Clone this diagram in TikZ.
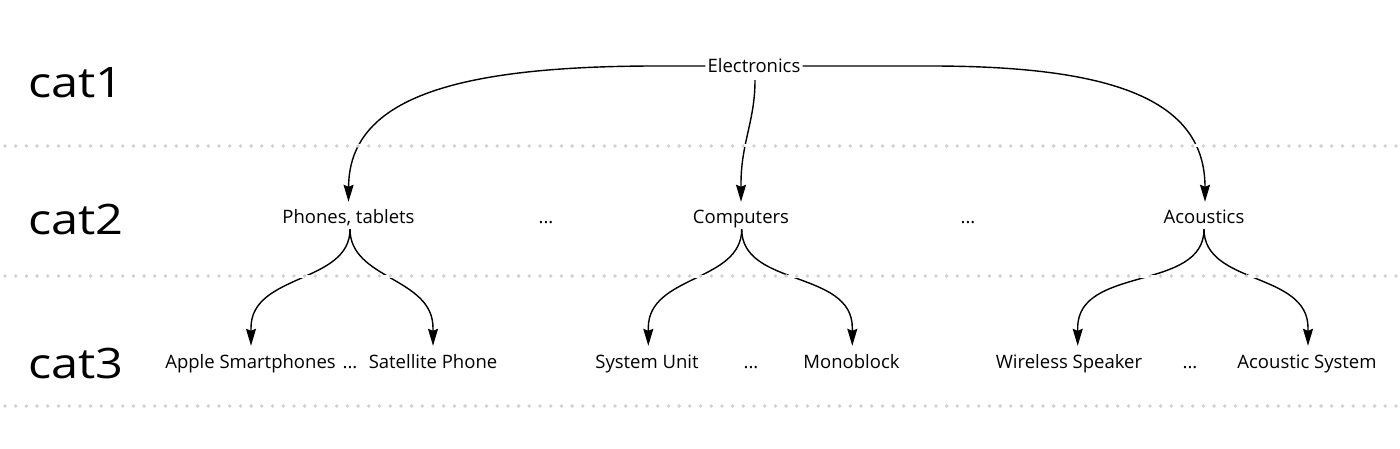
\documentclass[tikz,border=0pt]{standalone}
\usepackage{fontspec}
\setmainfont{Open Sans}
\newfontfamily\catfont{Open Sans}[FakeStretch=1.16]
\usetikzlibrary{arrows.meta,calc}
\begin{document}
\begin{tikzpicture}[x=1pt,y=-1pt,
  lbl/.style={font=\fontsize{18.5}{22}\selectfont, inner sep=0pt, text height=14pt, text depth=4pt, anchor=base},
  catlbl/.style={font=\catfont\fontsize{42}{50}\selectfont, inner sep=0pt, anchor=base west},
  arr/.style={draw=black, line width=1.4pt, -{Stealth[length=17pt,width=10pt,inset=2pt]}},
  sepmask/.style={draw=white, line width=3pt},
  sepline/.style={draw=black!18, line width=3.8pt, line cap=round, dash pattern=on 0pt off 10.7pt}
]
\useasboundingbox[fill=white] (0,0) rectangle (1400,449);

% category labels
\node[catlbl] (c1) at (28,98) {cat1};
\node[catlbl] (c2) at (28,234) {cat2};
\node[catlbl] (c3) at (28,378) {cat3};

% level 1
\node[lbl] (e) at (754,73) {Electronics};
% level 2
\node[lbl] (p) at (348.5,224) {Phones, tablets};
\node[lbl] (d1) at (546,224) {...};
\node[lbl] (co) at (741,224) {Computers};
\node[lbl] (d2) at (968,224) {...};
\node[lbl] (ac) at (1204,224) {Acoustics};
% level 3
\node[lbl] (ap) at (250.5,368) {Apple Smartphones};
\node[lbl] (d3) at (350,368) {...};
\node[lbl] (sp) at (433,368) {Satellite Phone};
\node[lbl] (su) at (647,368) {System Unit};
\node[lbl] (d4) at (751,368) {...};
\node[lbl] (mb) at (851.5,368) {Monoblock};
\node[lbl] (ws) at (1069,368) {Wireless Speaker};
\node[lbl] (d5) at (1190,368) {...};
\node[lbl] (as) at (1307,368) {Acoustic System};

% anchor points for connectors
\coordinate (eL) at ($(e.west)+(-2,-2)$);
\coordinate (eR) at ($(e.east)+(2,-2)$);
\coordinate (eB) at ($(e.south)+(1,3)$);
\coordinate (pT) at ($(p.north)+(0,-8)$);
\coordinate (coT) at ($(co.north)+(0,-8)$);
\coordinate (acT) at ($(ac.north)+(1,-8)$);
\coordinate (pB) at ($(p.south)+(1.5,1)$);
\coordinate (coB) at ($(co.south)+(0.7,1)$);
\coordinate (acB) at ($(ac.south)+(0,1)$);
\coordinate (apT) at ($(ap.north)+(0.5,-8)$);
\coordinate (spT) at ($(sp.north)+(0,-8)$);
\coordinate (suT) at ($(su.north)+(1.3,-8)$);
\coordinate (mbT) at ($(mb.north)+(0.8,-8)$);
\coordinate (wsT) at ($(ws.north)+(8.7,-8)$);
\coordinate (asT) at ($(as.north)+(1,-8)$);

% level 1 -> level 2
\draw[arr] (eL) -- (657,66) .. controls (450,66) and (349,100) .. (pT);
\draw[arr] (eR) -- (930,66) .. controls (1114,66) and (1205,100) .. (acT);
\draw[arr] (eB) to[out=-90,in=90] ($(coT)+(0,-18)$) -- (coT);

% level 2 -> level 3
\draw[arr] (pB) to[out=-90,in=90] ($(apT)+(0,-18)$) -- (apT);
\draw[arr] (pB) to[out=-90,in=90] ($(spT)+(0,-18)$) -- (spT);
\draw[arr] (coB) to[out=-90,in=90] ($(suT)+(0,-18)$) -- (suT);
\draw[arr] (coB) to[out=-90,in=90] ($(mbT)+(0,-18)$) -- (mbT);
\draw[arr] (acB) to[out=-90,in=90] ($(wsT)+(0,-18)$) -- (wsT);
\draw[arr] (acB) to[out=-90,in=90] ($(asT)+(0,-18)$) -- (asT);

% dotted separators
\foreach \yy in {146,276,406} {
  \draw[sepmask] (0,\yy) -- (1400,\yy);
  \draw[sepline] (5,\yy) -- (1400,\yy);
}
\end{tikzpicture}
\end{document}
